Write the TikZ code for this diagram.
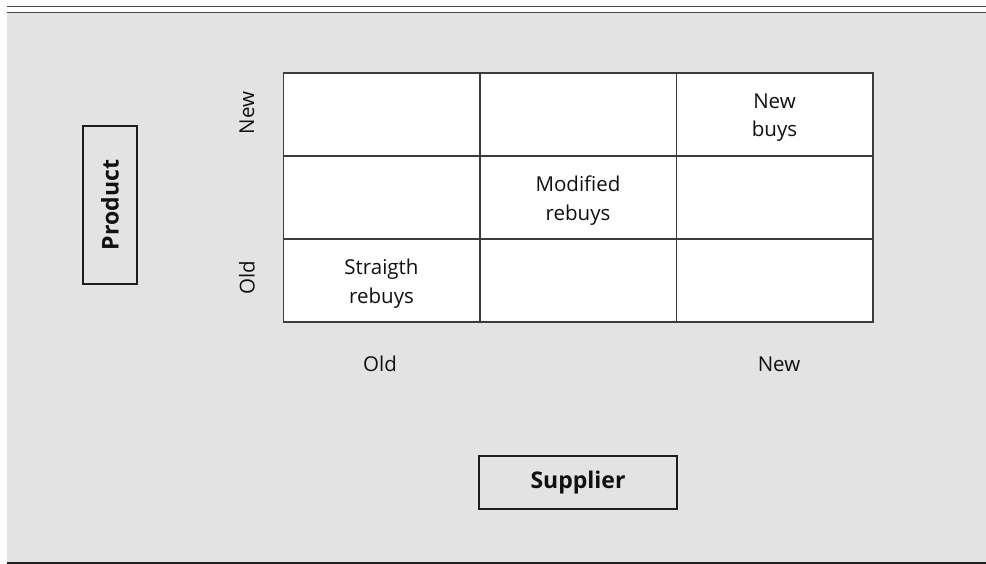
\documentclass[tikz,border=0pt]{standalone}
\usepackage{fontspec}
\setmainfont{Open Sans}
\definecolor{panel}{HTML}{E3E3E3}
\definecolor{rulec}{HTML}{474747}
\definecolor{gridc}{HTML}{3C3C3C}
\definecolor{boxc}{HTML}{1E1E1E}
\definecolor{textc}{HTML}{101010}
\begin{document}
\begin{tikzpicture}[x=1pt,y=-1pt,
  cell/.style={draw=gridc, fill=white, line width=1.5pt, minimum width=196.5pt,
    minimum height=83pt, inner sep=0pt},
  celltext/.style={inner sep=0pt, align=center, text=textc,
    font=\fontsize{20.5}{28.5}\selectfont},
  axislabel/.style={inner sep=0pt, text=textc, font=\fontsize{20.5}{24}\selectfont},
  titlebox/.style={draw=boxc, line width=2pt, inner sep=0pt, text=textc,
    font=\bfseries\fontsize{23}{28}\selectfont},
]
\useasboundingbox (0,0) rectangle (986,564);
\fill[white] (0,0) rectangle (986,564);
% panel and rules
\fill[panel] (7,13.5) rectangle (986,562);
\draw[rulec, line width=1.4pt] (7,6.5) -- (986,6.5);
\draw[rulec, line width=1.8pt] (7,12.5) -- (986,12.5);
\draw[boxc, line width=2.2pt] (7,563) -- (986,563);

% 3x3 grid of cells
\node[cell] (c11) at (381.5,114.5) {};
\node[cell] (c12) at (578,114.5) {};
\node[cell] (c13) at (774.5,114.5) {};
\node[cell] (c21) at (381.5,197.5) {};
\node[cell] (c22) at (578,197.5) {};
\node[cell] (c23) at (774.5,197.5) {};
\node[cell] (c31) at (381.5,280.5) {};
\node[cell] (c32) at (578,280.5) {};
\node[cell] (c33) at (774.5,280.5) {};

% cell texts, set a little below the cell centres
\node[celltext] (t13) at ([yshift=-3pt]c13.center) {New\\buys};
\node[celltext] (t22) at ([yshift=-3pt]c22.center) {Modified\\rebuys};
\node[celltext] (t31) at ([yshift=-3pt]c31.center) {Straigth\\rebuys};

% axis labels
\node[axislabel, rotate=90] (pnew) at (247,113) {New};
\node[axislabel, rotate=90] (pold) at (247,278) {Old};
\node[axislabel] (sold) at (380,364) {Old};
\node[axislabel] (snew) at (779,364) {New};

% axis titles
\node[titlebox, rotate=90, minimum width=158pt, minimum height=54pt] (product) at (110,205) {Product};
\node[titlebox, minimum width=198pt, minimum height=53pt] (supplier) at (578,482.5) {Supplier};
\end{tikzpicture}
\end{document}
